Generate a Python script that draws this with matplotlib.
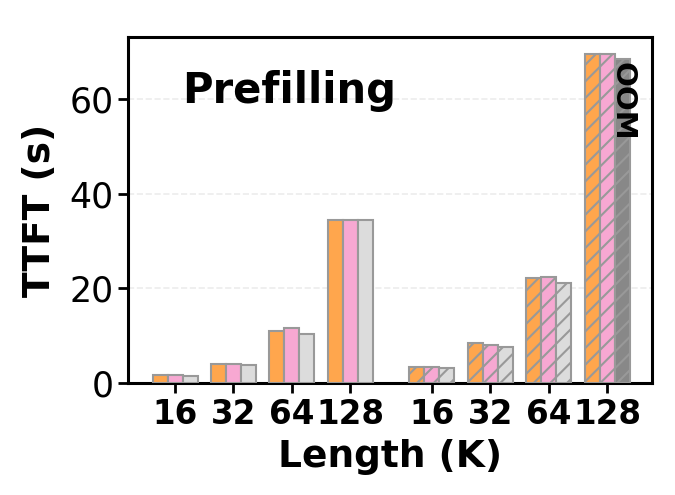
import numpy as np
import matplotlib
matplotlib.use("Agg")
import matplotlib.pyplot as plt

# Data
lengths = ["16", "32", "64", "128"]
plain_a = [1.6, 3.95, 11.1, 34.5]
plain_b = [1.6, 3.95, 11.6, 34.5]
plain_c = [1.4, 3.7, 10.3, 34.5]
hatch_a = [3.4, 8.45, 22.2, 69.7]
hatch_b = [3.4, 8.05, 22.4, 69.7]
hatch_c = [3.1, 7.6, 21.2, 68.6]
oom_flags = [False, False, False, True]

colors = ["#FFA64D", "#F7A8D2", "#DCDCDC"]
oom_color = "#888888"
edge = "#999999"

plt.rcParams["hatch.linewidth"] = 1.5
plt.rcParams["hatch.color"] = edge

fig = plt.figure(figsize=(6.75, 4.95), dpi=100)
ax = fig.add_axes([0.1896, 0.2263, 0.7763, 0.699])

w = 0.257
pos1 = np.arange(4)
pos2 = np.arange(4) + 4.4

for j, vals in enumerate([plain_a, plain_b, plain_c]):
    ax.bar(pos1 + (j - 1) * w, vals, w, color=colors[j], edgecolor=edge,
           linewidth=1.5, zorder=3)

for j, vals in enumerate([hatch_a, hatch_b, hatch_c]):
    cols = [colors[j]] * 4
    if j == 2:
        cols = [oom_color if f else colors[j] for f in oom_flags]
    ax.bar(pos2 + (j - 1) * w, vals, w, color=cols, edgecolor=edge,
           linewidth=1.5, hatch="//", zorder=3)

# OOM label on the last bar
for k, f in enumerate(oom_flags):
    if f:
        ax.text(pos2[k] + w, hatch_c[k] - 0.6, "OOM", rotation=-90,
                ha="center", va="top", fontsize=21, fontweight="bold", zorder=4)

ax.text(0.103, 0.905, "Prefilling", transform=ax.transAxes, ha="left",
        va="top", fontsize=30, fontweight="bold")

ax.set_xlim(-0.806, 8.17)
ax.set_ylim(0, 73.2)
ax.set_yticks([0, 20, 40, 60])
ax.set_xticks(np.concatenate([pos1, pos2]))
ax.set_xticklabels(lengths + lengths, fontsize=23.5, fontweight="bold")
ax.tick_params(axis="y", labelsize=25, length=7, width=2)
ax.tick_params(axis="x", length=7, width=2)

ax.yaxis.grid(True, linestyle="--", color="#ececec", linewidth=1.2, zorder=0)
ax.set_axisbelow(True)

for s in ax.spines.values():
    s.set_linewidth(2.2)

ax.set_xlabel("Length (K)", fontsize=27, fontweight="bold", labelpad=6)
ax.set_ylabel("TTFT (s)", fontsize=27, fontweight="bold", labelpad=8)

fig.savefig("out.png", dpi=100)
